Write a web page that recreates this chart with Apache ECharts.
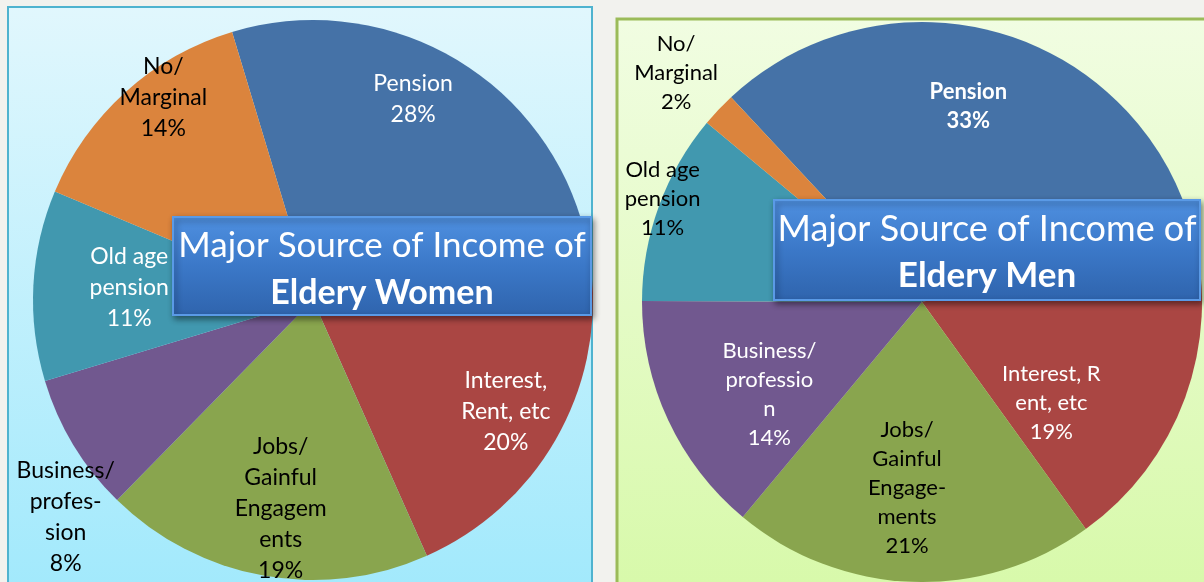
<!DOCTYPE html>
<html>
<head>
<meta charset="utf-8">
<script src="https://cdn.jsdelivr.net/npm/echarts@6/dist/echarts.min.js"></script>
<style>
  html, body { margin: 0; padding: 0; background: #f2f2ee; }
  #chart { width: 1204px; height: 582px; }
</style>
</head>
<body>
<div id="chart"></div>
<script>
// categories in drawing order (clockwise from Pension)
var categories = ["Pension", "Interest, Rent, etc", "Jobs/ Gainful Engagements", "Business/ profession", "Old age pension", "No/ Marginal"];

// label text as wrapped in the picture
var womenLabels = ["Pension", "Interest,\nRent, etc", "Jobs/\nGainful\nEngagem\nents", "Business/\nprofes-\nsion", "Old age\npension", "No/\nMarginal"];
var menLabels = ["Pension", "Interest, R\nent, etc", "Jobs/\nGainful\nEngage-\nments", "Business/\nprofessio\nn", "Old age\npension", "No/\nMarginal"];

// percent shares
var womenValues = [28, 20, 19, 8, 11, 14];
var menValues = [33, 19, 21, 14, 11, 2];

var colors = ["#4572a7", "#aa4643", "#89a54e", "#71588f", "#4198af", "#db843d"];

// label tweaks
var womenLabelColor = ["#fff", "#fff", "#000", "#000", "#fff", "#000"];
var menLabelColor = ["#fff", "#fff", "#000", "#fff", "#000", "#000"];
var womenShift = [[21, -82], [69, 40], [-7, 68], [-125, 143], [-41, -5], [-54, -96]];
var menShift = [[6, -58], [-5, 52], [-10, 43], [-23, 32], [-125, -54], [-142, -131]];

var font = "Lato";

function makeData(values, labels, labelColor, boldFirst) {
  return values.map(function (v, i) {
    return {
      name: categories[i],
      value: v,
      itemStyle: { color: colors[i] },
      label: {
        color: labelColor[i],
        fontWeight: (boldFirst && i === 0) ? "bold" : "normal"
      }
    };
  });
}

function pieSeries(center, startAngle, values, labels, labelColor, shift, boldFirst, fontSize, lineHeight) {
  return {
    type: "pie",
    center: center,
    radius: 280,
    startAngle: startAngle,
    clockwise: true,
    avoidLabelOverlap: false,
    z: 2,
    label: {
      show: true,
      position: "inside",
      fontFamily: font,
      fontSize: fontSize,
      lineHeight: lineHeight,
      align: "center",
      formatter: function (p) {
        return labels[p.dataIndex] + "\n" + p.value + "%";
      }
    },
    labelLine: { show: false },
    labelLayout: function (p) {
      return { dx: shift[p.dataIndex][0], dy: shift[p.dataIndex][1] };
    },
    emphasis: { disabled: true },
    data: makeData(values, labels, labelColor, boldFirst)
  };
}

function titleBox(x, y, w, h, who, size1, size2) {
  return {
    type: "group",
    z: 100,
    children: [
      {
        type: "rect",
        z: 100,
        shape: { x: x, y: y, width: w, height: h },
        style: {
          fill: {
            type: "linear", x: 0, y: 0, x2: 0, y2: 1,
            colorStops: [
              { offset: 0, color: "#4f90e0" },
              { offset: 0.5, color: "#3b78c8" },
              { offset: 1, color: "#2f64ad" }
            ]
          },
          stroke: "#5a9ae6",
          lineWidth: 2,
          shadowBlur: 6,
          shadowOffsetX: 2,
          shadowOffsetY: 3,
          shadowColor: "rgba(0,0,0,0.45)"
        }
      },
      {
        type: "text",
        z: 101,
        x: x + w / 2,
        y: y + 29,
        style: {
          text: "Major Source of Income of",
          fill: "#fff",
          font: size1 + "px " + font,
          align: "center",
          verticalAlign: "middle"
        }
      },
      {
        type: "text",
        z: 101,
        x: x + w / 2,
        y: y + 76,
        style: {
          text: who,
          fill: "#fff",
          font: "bold " + size2 + "px " + font,
          align: "center",
          verticalAlign: "middle"
        }
      }
    ]
  };
}

var chart = echarts.init(document.getElementById("chart"));

chart.setOption({
  backgroundColor: "#f2f2ee",
  animation: false,
  graphic: [
    {
      type: "rect",
      z: -10,
      shape: { x: 8, y: 7, width: 584, height: 590 },
      style: {
        fill: {
          type: "linear", x: 0, y: 0, x2: 0, y2: 1,
          colorStops: [
            { offset: 0, color: "#e1f7fd" },
            { offset: 1, color: "#a1e9fc" }
          ]
        },
        stroke: "#4fb3cf",
        lineWidth: 2
      }
    },
    {
      type: "rect",
      z: -10,
      shape: { x: 617, y: 19, width: 600, height: 580 },
      style: {
        fill: {
          type: "linear", x: 0, y: 0, x2: 0, y2: 1,
          colorStops: [
            { offset: 0, color: "#f1fde2" },
            { offset: 1, color: "#d7f9a9" }
          ]
        },
        stroke: "#9bbb59",
        lineWidth: 3
      }
    },
    titleBox(173, 217, 418, 98, "Eldery Women", 35, 34),
    titleBox(774, 200, 426, 100, "Eldery Men", 36, 35)
  ],
  series: [
    pieSeries([313, 300], 106.8, womenValues, womenLabels, womenLabelColor, womenShift, false, 23, 31),
    pieSeries([922, 302], 133, menValues, menLabels, menLabelColor, menShift, true, 22, 29)
  ]
});
</script>
</body>
</html>
